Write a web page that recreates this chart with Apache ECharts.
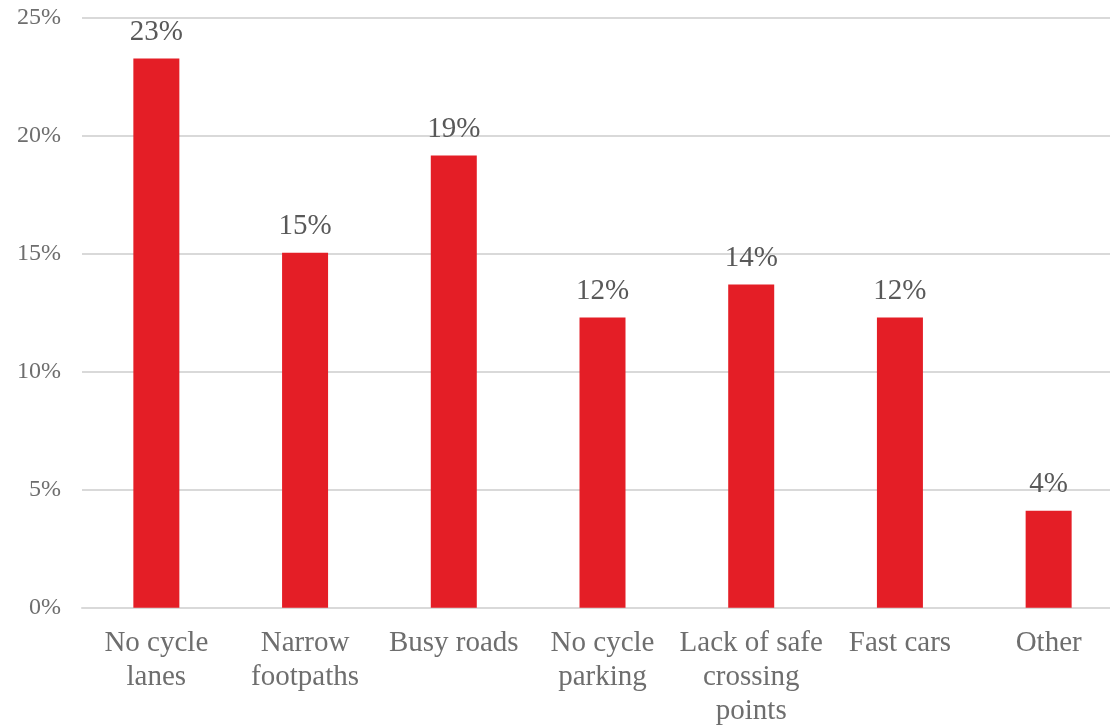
<!DOCTYPE html>
<html>
<head>
<meta charset="utf-8">
<script src="https://cdn.jsdelivr.net/npm/echarts@6/dist/echarts.min.js"></script>
<style>
html,body{margin:0;padding:0;background:#fff;}
#chart{width:1110px;height:725px;}
</style>
</head>
<body>
<div id="chart"></div>
<script>
const categories = ["No cycle\nlanes", "Narrow\nfootpaths", "Busy roads", "No cycle\nparking", "Lack of safe\ncrossing\npoints", "Fast cars", "Other"];
const values = [23.26, 15.04, 19.15, 12.29, 13.69, 12.29, 4.11];
const yTicks = [0, 5, 10, 15, 20, 25];

const chart = echarts.init(document.getElementById('chart'), null, {renderer: 'canvas'});
const font = '"Liberation Serif", "Times New Roman", serif';
chart.setOption({
  animation: false,
  backgroundColor: '#ffffff',
  grid: {left: 82, width: 1041, top: 17.5, bottom: 117.3, outerBoundsMode: 'none'},
  xAxis: {
    type: 'category',
    data: categories,
    axisLine: {show: true, lineStyle: {color: '#d9d9d9', width: 2}},
    axisTick: {show: false},
    axisLabel: {
      interval: 0, color: '#6e6e6e', fontFamily: font, fontSize: 29,
      lineHeight: 34, margin: 19
    }
  },
  yAxis: {
    type: 'value',
    min: yTicks[0], max: yTicks[yTicks.length - 1], interval: 5,
    axisLine: {show: false},
    axisTick: {show: false},
    splitLine: {show: true, lineStyle: {color: '#d9d9d9', width: 2}},
    axisLabel: {
      color: '#6e6e6e', fontFamily: font, fontSize: 24, margin: 21,
      formatter: v => v + '%'
    }
  },
  series: [{
    type: 'bar',
    data: values,
    barWidth: 46,
    itemStyle: {color: '#E41E26'},
    label: {
      show: true, position: 'top', distance: 12,
      color: '#595959', fontFamily: font, fontSize: 29,
      formatter: p => Math.round(p.value) + '%'
    }
  }]
});
</script>
</body>
</html>
